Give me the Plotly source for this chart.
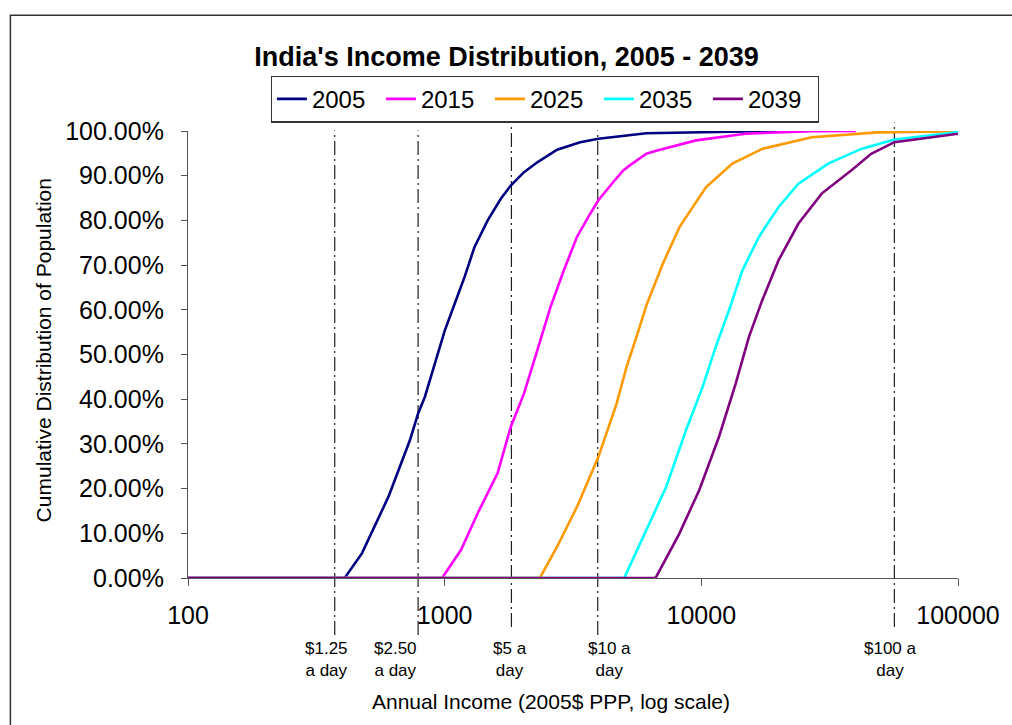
import math
import plotly.graph_objects as go

# ---- data ----
years = ["2005", "2015", "2025", "2035", "2039"]
colors = ["#000080", "#FF00FF", "#FF9900", "#00FFFF", "#800080"]

inc_2005 = [100, 405, 411, 476, 604, 660, 732, 788, 837, 915, 1000, 1093, 1195, 1306, 1471, 1655,
            1809, 2038, 2295, 2742, 3373, 3972, 6109, 14870, 20000]
cdf_2005 = [0, 0, 0.003, 0.055, 0.182, 0.241, 0.308, 0.368, 0.405, 0.479, 0.553, 0.613, 0.673, 0.740, 0.800, 0.8485,
            0.878, 0.908, 0.930, 0.958, 0.975, 0.9825, 0.995, 0.999, 1.0]

inc_2015 = [100, 980, 985, 1159, 1345, 1607, 1809, 2038, 2295, 2583, 2911, 3276, 3690, 3972, 4540, 4963,
            5262, 6109, 6675, 9530, 14870, 26920, 40000]
cdf_2015 = [0, 0, 0.003, 0.063, 0.145, 0.234, 0.338, 0.413, 0.509, 0.606, 0.688, 0.763, 0.815, 0.845, 0.886, 0.912,
            0.923, 0.949, 0.956, 0.979, 0.994, 0.9995, 1.0]

inc_2025 = [100, 2350, 2364, 2742, 3276, 3690, 3972, 4677, 5110, 5585, 6109, 7080, 8220, 10420, 13210,
            17260, 26920, 48750, 100000]
cdf_2025 = [0, 0, 0.003, 0.070, 0.159, 0.226, 0.271, 0.390, 0.472, 0.539, 0.610, 0.703, 0.785, 0.874, 0.927,
            0.960, 0.986, 0.997, 0.9995]

inc_2035 = [100, 5000, 5036, 6109, 7300, 8720, 10110, 11380, 12820, 14450, 16760, 20000, 23900, 31200,
            41980, 56500, 100000]
cdf_2035 = [0, 0, 0.003, 0.107, 0.204, 0.331, 0.427, 0.517, 0.599, 0.688, 0.763, 0.830, 0.882, 0.927,
            0.960, 0.981, 0.9975]

inc_2039 = [100, 6600, 6675, 8220, 9820, 11720, 13610, 15320, 17260, 20000, 23900, 29440, 38460, 45900,
            56500, 100000]
cdf_2039 = [0, 0, 0.003, 0.100, 0.197, 0.316, 0.435, 0.539, 0.621, 0.711, 0.793, 0.860, 0.912, 0.949,
            0.975, 0.994]

series_x = [inc_2005, inc_2015, inc_2025, inc_2035, inc_2039]
series_y = [cdf_2005, cdf_2015, cdf_2025, cdf_2035, cdf_2039]

# reference lines (where they are drawn on the chart) and their text labels
marker_incomes = [373, 788, 1820, 3948, 56500]
marker_labels = ["$1.25<br>a day", "$2.50<br>a day", "$5 a<br>day", "$10 a<br>day", "$100 a<br>day"]
label_incomes = [345, 645, 1790, 4380, 54500]

x_tickvals = [100, 1000, 10000, 100000]
x_ticktext = ["100", "1000", "10000", "100000"]
y_tickvals = [0, 0.1, 0.2, 0.3, 0.4, 0.5, 0.6, 0.7, 0.8, 0.9, 1.0]

# ---- geometry helpers (pixel -> paper) ----
PL, PR, PT, PB = 188, 964, 130.5, 578
def px(x):
    return (x - PL) / (PR - PL)
def py(y):
    return (PB - y) / (PB - PT)

FONT = "Arial, Liberation Sans, sans-serif"

fig = go.Figure()
for name, xs, ys, c in zip(years, series_x, series_y, colors):
    fig.add_trace(go.Scatter(x=xs, y=ys, mode="lines", name=name,
                             line=dict(color=c, width=2.6)))

shapes = []
long_top = {1820, 56500}
for v in marker_incomes:
    top, bot = (122, 627) if v in long_top else (130, 635)
    shapes.append(dict(type="line", xref="x", yref="paper", x0=v, x1=v, y0=py(bot), y1=py(top),
                       line=dict(color="#202020", width=1.2, dash="14px,4px,2px,4px"), layer="below"))
# outer chart frame
shapes.append(dict(type="rect", xref="paper", yref="paper", x0=px(9), x1=px(1030), y0=py(740), y1=py(14.5),
                   line=dict(color="#333333", width=1.5), fillcolor="rgba(0,0,0,0)"))

annotations = []
for v, t in zip(label_incomes, marker_labels):
    # annotation positions on a log axis are given in log10 units
    annotations.append(dict(x=math.log10(v), xref="x", y=py(637), yref="paper", text=t, showarrow=False,
                            yanchor="top", xanchor="center", align="center",
                            font=dict(size=17, color="black", family=FONT)))
annotations.append(dict(x=px(554), xref="paper", y=py(702), yref="paper",
                        text="Annual Income (2005$ PPP, log scale)", showarrow=False,
                        xanchor="center", yanchor="middle",
                        font=dict(size=21, color="black", family=FONT)))
annotations.append(dict(x=px(42), xref="paper", y=py(350), yref="paper",
                        text="Cumulative Distribution of Population", showarrow=False, textangle=-90,
                        xanchor="center", yanchor="middle",
                        font=dict(size=21, color="black", family=FONT)))

fig.update_layout(
    width=1012, height=725,
    margin=dict(l=PL, r=1012 - PR, t=PT, b=725 - PB),
    paper_bgcolor="white", plot_bgcolor="white",
    font=dict(family=FONT, color="black"),
    title=dict(text="<b>India's Income Distribution, 2005 - 2039</b>",
               x=506.5 / 1012, xanchor="center", y=1 - 57 / 725, yanchor="middle",
               font=dict(size=27, color="black", family=FONT)),
    legend=dict(orientation="h", x=px(547.5), xanchor="center", y=py(75), yanchor="top",
                bordercolor="#333333", borderwidth=1.2, bgcolor="white",
                font=dict(size=24, color="black"), itemwidth=30, tracegroupgap=0,
                entrywidth=64, entrywidthmode="pixels"),
    xaxis=dict(type="log", range=[2, 5], tickvals=x_tickvals, ticktext=x_ticktext,
               showgrid=False, zeroline=False, showline=True, linecolor="#555555", linewidth=1.2,
               ticks="outside", ticklen=7, tickcolor="#555555", tickfont=dict(size=25),
               ticklabelstandoff=8),
    yaxis=dict(range=[0, 1], tickvals=y_tickvals, tickformat=".2%",
               showgrid=False, zeroline=False, showline=True, linecolor="#555555", linewidth=1.2,
               ticks="outside", ticklen=6, tickcolor="#555555", tickfont=dict(size=25),
               ticklabelstandoff=12),
    shapes=shapes, annotations=annotations, showlegend=True,
)

fig.write_html("out.html", config={"displayModeBar": False},
               post_script="document.body.style.margin='0px';")
